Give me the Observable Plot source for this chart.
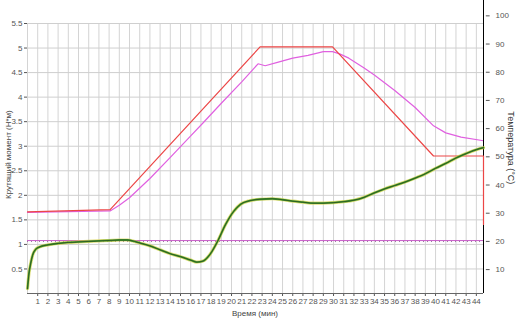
<!DOCTYPE html>
<html>
<head>
<meta charset="utf-8">
<script src="https://cdn.jsdelivr.net/npm/d3@7"></script>
<script src="https://cdn.jsdelivr.net/npm/@observablehq/plot@0.6"></script>
<style>
  body { margin: 0; background: white; }
</style>
</head>
<body>
<div id="chart"></div>
<script>
// Torque (N*m) vs time (min)
const torqueTime = [0,0.15,0.3,0.5,0.8,1.2,2,3,4,5,6,7,8,9,9.8,10.5,11,12,13,14,15,16,16.6,17.2,17.9,18.6,19.4,20.2,20.9,21.8,22.8,24,25,26,27,28,29,30,31,32,33,34,35,36,37,38,39,40,41,42,43,44,44.7];
const torqueValue = [0.1,0.42,0.6,0.78,0.9,0.95,0.99,1.02,1.04,1.05,1.06,1.07,1.08,1.09,1.09,1.06,1.03,0.97,0.89,0.81,0.75,0.68,0.64,0.66,0.8,1.05,1.4,1.67,1.82,1.89,1.92,1.93,1.91,1.88,1.86,1.84,1.84,1.85,1.87,1.9,1.96,2.05,2.13,2.2,2.27,2.35,2.44,2.55,2.65,2.76,2.85,2.93,2.97];

// Set temperature (°C)
const setTime = [0,8.1,22.8,29.9,39.8,44.7,44.7];
const setTemp = [30.5,31.3,89,89,50.3,50.3,26];

// Measured temperature (°C)
const measTime = [0,8.1,9,10,12,14,16,17.2,19,21,22.6,23.3,24.5,26,27.5,29,29.9,30.6,31.5,33,34,36,38,39.8,41,42.5,44.7];
const measTemp = [30.3,30.8,32.8,35.5,42.3,49.8,57.4,62,69,76.6,83,82.3,83.5,85,86,87.3,87.3,86.5,85,81.5,79,73.5,67.5,61,58.5,57,55.7];

// Reference line (°C)
const refTemp = 20.3;

// Tick labels
const xTicks = d3.range(1, 45);
const yTicks = [0.5,1,1.5,2,2.5,3,3.5,4,4.5,5,5.5];
const tempTicks = [10,20,30,40,50,60,70,80,90,100];

const xMax = 44.7;
// map temperature onto torque scale (right axis)
const conv = t => (2.82 * t - 4.3) / 49.1;

const torque = torqueTime.map((t, i) => ({t, v: torqueValue[i]}));
const setT = setTime.map((t, i) => ({t, v: conv(setTemp[i])}));
const measT = measTime.map((t, i) => ({t, v: conv(measTemp[i])}));

const chart = Plot.plot({
  width: 519,
  height: 320,
  marginLeft: 27,
  marginRight: 36,
  marginTop: 23,
  marginBottom: 27,
  style: {fontFamily: "Liberation Sans, Arial, sans-serif", fontSize: "8px", color: "#555", background: "white"},
  x: {domain: [0, xMax], ticks: xTicks, tickFormat: d => String(d), tickSize: 3, tickPadding: 2, label: null},
  y: {domain: [0, 5.5], ticks: yTicks, tickFormat: d => String(d), tickSize: 3, tickPadding: 2, label: null},
  marks: [
    Plot.ruleX(d3.range(0, 45), {y1: 0, y2: 5.5, stroke: "#d4d4d4"}),
    Plot.ruleY(yTicks, {stroke: "#cfcfcf"}),
    Plot.ruleY([0], {stroke: "#666"}),
    // reference line
    Plot.ruleY([conv(refTemp)], {stroke: "#c85cc8", strokeWidth: 1}),
    Plot.ruleY([conv(refTemp) - 0.02], {stroke: "#9a7aa0", strokeWidth: 1, strokeDasharray: "1,3"}),
    // temperatures
    Plot.line(measT, {x: "t", y: "v", stroke: "#e060e0", strokeWidth: 1.2}),
    // right axis
    Plot.ruleX([xMax], {y1: 0, y2: 5.97, stroke: "black"}),
    Plot.line(setT, {x: "t", y: "v", stroke: "#ec4646", strokeWidth: 1.2}),
    Plot.ruleY(tempTicks, {y: conv, x1: 44.98, x2: 45.35, stroke: "#555"}),
    Plot.text(tempTicks, {x: xMax, y: conv, text: d => String(d), dx: 12, textAnchor: "start", fill: "#555"}),
    // torque
    Plot.line(torque, {x: "t", y: "v", stroke: "#d4d040", strokeWidth: 3.2, strokeOpacity: 0.7, curve: "monotone-x"}),
    Plot.line(torque, {x: "t", y: "v", stroke: "#45962c", strokeWidth: 1.8, curve: "monotone-x"}),
    Plot.line(torque, {x: "t", y: "v", stroke: "#1c3a1c", strokeWidth: 0.6, curve: "monotone-x"}),
    // axis titles
    Plot.text(["Температура (°C)"], {x: xMax, y: 2.97, dx: 27, rotate: 90, fontSize: 9, fill: "#333"}),
    Plot.text(["Крутящий момент (Н*м)"], {x: 0, y: 2.83, dx: -19, rotate: -90, fontSize: 8, fill: "#444"}),
    Plot.text(["Время (мин)"], {x: 22.3, y: 0, dy: 20, fontSize: 8, fill: "#444"})
  ]
});
document.getElementById("chart").appendChild(chart);
</script>
</body>
</html>
